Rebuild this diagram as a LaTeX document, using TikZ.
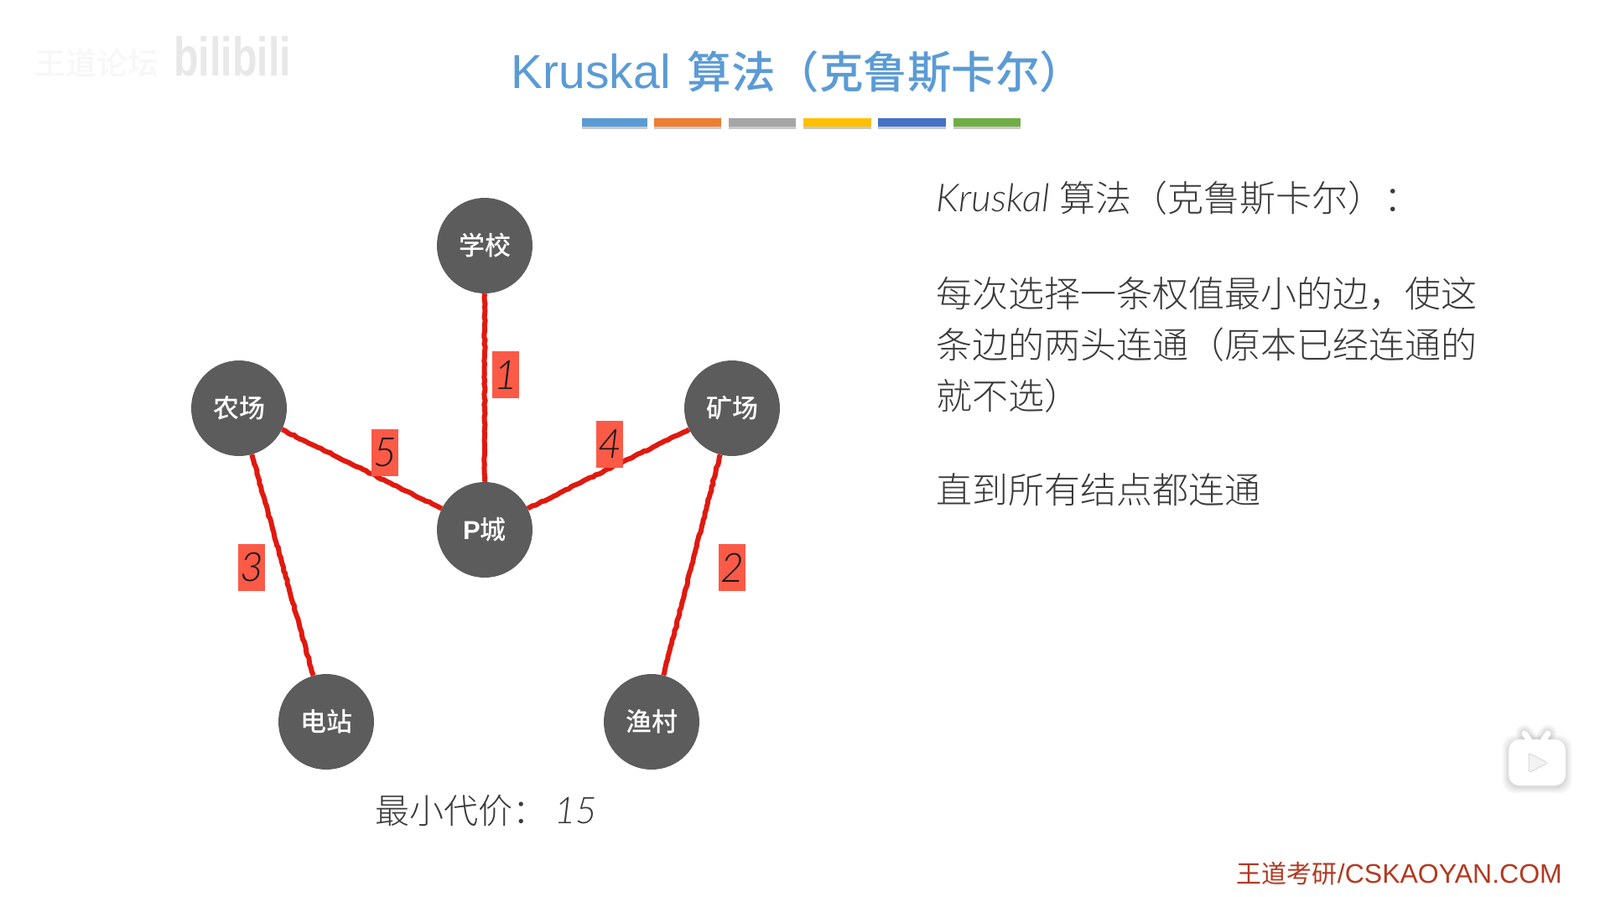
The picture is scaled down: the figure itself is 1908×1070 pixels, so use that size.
\documentclass[tikz,border=0pt]{standalone}
\usepackage{fontspec}
\usetikzlibrary{shadows,decorations.pathmorphing,shapes.geometric}
\setmainfont{Liberation Sans}
\newfontfamily\cjk[UprightFont=* Medium]{Noto Sans CJK SC}
\newfontfamily\cjkreg{Noto Sans CJK SC}
\newfontfamily\cjklight[UprightFont=* Light]{Noto Sans CJK SC}
\newfontfamily\latlight[UprightFont=* Light,ItalicFont=* Light Italic]{Lato}
\newcommand{\fs}[1]{\fontsize{#1}{#1}\selectfont}
\definecolor{titleblue}{HTML}{5B9BD5}
\definecolor{nodegray}{HTML}{5C5C5C}
\definecolor{edgered}{HTML}{E0190F}
\definecolor{labelred}{HTML}{FB5A47}
\definecolor{bodytext}{HTML}{3A3A3A}
\definecolor{brandred}{HTML}{B23A22}
\definecolor{barorange}{HTML}{ED7D31}
\definecolor{bargray}{HTML}{A5A5A5}
\definecolor{baryellow}{HTML}{FFC000}
\definecolor{barblue}{HTML}{4472C4}
\definecolor{bargreen}{HTML}{70AD47}
\tikzset{
  x=1pt,y=-1pt,
  city/.style={circle,fill=nodegray,text=white,minimum size=114pt,inner sep=0pt,font=\fs{31}\cjk},
  edge/.style={edgered,line width=6pt,decorate,decoration={random steps,segment length=4pt,amplitude=0.7pt}},
  weight/.style={fill=labelred,minimum width=32pt,minimum height=56pt,inner sep=0pt,text=black!90,font=\fs{48}\latlight\itshape},
  bar/.style={minimum height=10pt,inner sep=0pt,drop shadow={shadow xshift=0pt,shadow yshift=-2.5pt,opacity=.35,fill=black!60}},
  body/.style={anchor=west,inner sep=0pt,text=bodytext,font=\fs{43}\cjklight},
}
\begin{document}
\begin{tikzpicture}
\useasboundingbox[fill=white] (0,0) rectangle (1908,1070);
% watermark
\node[inner sep=0pt,text=black!3,font=\fs{37}\cjk] (wm) at (115,75) {王道论坛};
\node[inner sep=0pt,text=black!9,xscale=.78,yscale=1.05,font=\fs{62}\bfseries] (bili) at (277,67) {bilibili};
% title
\node[inner sep=0pt,text=titleblue,font=\fs{57}] (title) at (951,86) {Kruskal\hspace{4pt} {\fs{52.5}\cjk 算法（克鲁斯卡尔）}};
% colour bars
\node[bar,fill=titleblue,minimum width=78pt] (b1) at (733,146) {};
\node[bar,fill=barorange,minimum width=80pt] (b2) at (820,146) {};
\node[bar,fill=bargray,minimum width=80pt] (b3) at (909,146) {};
\node[bar,fill=baryellow,minimum width=81pt] (b4) at (998,146) {};
\node[bar,fill=barblue,minimum width=81pt] (b5) at (1087,146) {};
\node[bar,fill=bargreen,minimum width=80pt] (b6) at (1177,146) {};
% cities
\node[city] (school) at (578,293) {学校};
\node[city] (pcity) at (578,632) {{\rmfamily\bfseries P}城};
\node[city] (farm) at (285,487) {农场};
\node[city] (mine) at (873,487) {矿场};
\node[city] (power) at (389,861) {电站};
\node[city] (fish) at (777,861) {渔村};
% edges
\draw[edge] (school) -- (pcity);
\draw[edge] (farm) -- (pcity);
\draw[edge] (mine) -- (pcity);
\draw[edge] (farm) -- (power);
\draw[edge] (mine) -- (fish);
% weights
\node[weight] (w1) at (603,447) {1};
\node[weight] (w2) at (873,677) {2};
\node[weight] (w3) at (300,677) {3};
\node[weight] (w4) at (727,530) {4};
\node[weight] (w5) at (459,540) {5};
% cost
\node[anchor=west,inner sep=0pt,text=bodytext,font=\fs{41}\cjklight] (cost) at (447,967) {最小代价： {\fs{44}\latlight\itshape 15}};
% text
\node[body] (t0) at (1116,236) {{\fs{46}\latlight\itshape Kruskal}\hspace{2pt} 算法（克鲁斯卡尔）：};
\node[body] (t1) at (1116,350) {每次选择一条权值最小的边，使这};
\node[body] (t2) at (1116,411) {条边的两头连通（原本已经连通的};
\node[body] (t3) at (1116,472) {就不选）};
\node[body] (t4) at (1116,584) {直到所有结点都连通};
% brand
\node[anchor=east,inner sep=0pt,text=brandred,font=\fs{32}] (brand) at (1863,1042) {{\fs{30}\cjkreg 王道考研}/CSKAOYAN.COM};
% player icon
\foreach \g in {7,5,3,1.5}{
  \fill[black,opacity=.035,rounded corners=14pt] (1799-\g,882-\g+2) rectangle (1867+\g,937+\g+2);
  \draw[black,opacity=.035,line width=7pt+2*\g,line cap=round] (1818,875) -- (1826,886) (1846,875) -- (1838,886);
}
\draw[white,line width=7pt,line cap=round] (1818,875) -- (1826,886) (1846,875) -- (1838,886);
\node[fill=white,rounded corners=13pt,minimum width=68pt,minimum height=55pt,inner sep=0pt] (tv) at (1833,909.5) {};
\fill[black!5,draw=black!14,line width=1pt,rounded corners=3pt] (1823,898) -- (1846,910) -- (1823,922) -- cycle;
\end{tikzpicture}
\end{document}
